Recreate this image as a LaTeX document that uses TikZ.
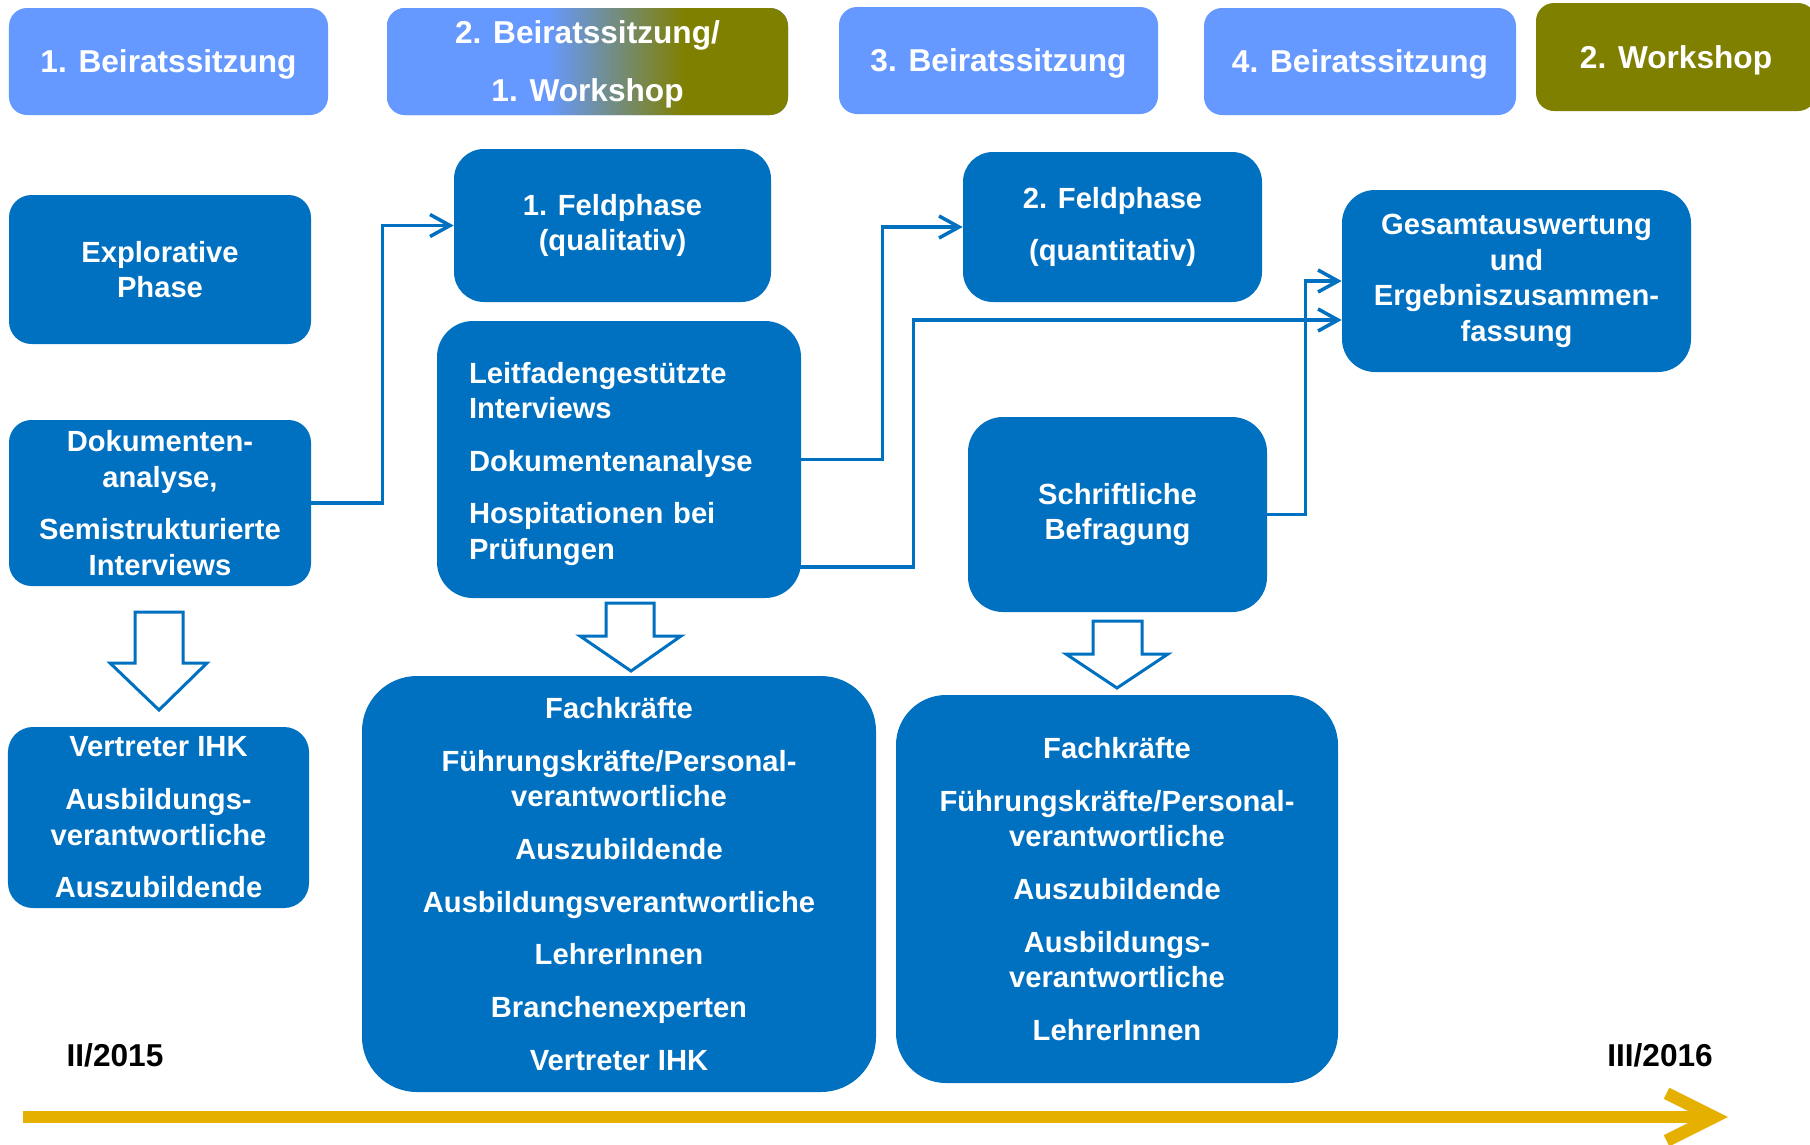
\documentclass[tikz,border=0pt]{standalone}
\usepackage{fontspec}
\setmainfont{Liberation Sans}
\usepackage{xcolor}
\usetikzlibrary{calc}
\usetikzlibrary{positioning,arrows.meta}
\definecolor{boxblue}{HTML}{0070C0}
\definecolor{lightblue}{HTML}{6699FF}
\definecolor{olivegreen}{HTML}{808000}
\definecolor{timegold}{HTML}{E6B000}
\pgfdeclarehorizontalshading{beiratws}{100bp}{color(0bp)=(lightblue); color(45bp)=(lightblue); color(62bp)=(olivegreen); color(100bp)=(olivegreen)}
\tikzset{
  phase/.style={fill=boxblue, text=white, inner sep=0pt, align=center,
    execute at begin node={\rule{0pt}{17pt}},
    font=\bfseries\fontsize{16.6}{20.25}\selectfont},
  sitzung/.style={fill=lightblue, text=white, inner sep=0pt, align=center,
    rounded corners=0.36cm, minimum height=2.14cm, text depth=0pt,
    font=\bfseries\fontsize{18}{21}\selectfont},
  conn/.style={draw=boxblue, line width=0.07cm,
    -{Straight Barb[length=0.4cm,width=0.44cm]}},
  hollow/.style={draw=boxblue, fill=white, line width=0.06cm},
  datum/.style={font=\bfseries\fontsize{18}{21}\selectfont}
}

\begin{document}
\begin{tikzpicture}
\clip (0,0) rectangle (36.2,-22.88);
\fill[white] (0,0) rectangle (36.2,-22.88);

% Sitzungen oben
\node[sitzung, minimum width=6.38cm] (beirat1) at (3.37,-1.23) {1. Beiratssitzung};
\node[sitzung, shade, shading=beiratws, minimum width=8.02cm] (beirat2) at (11.75,-1.23) {2. Beiratssitzung/\\[12pt]1. Workshop};
\node[sitzung, minimum width=6.38cm] (beirat3) at (19.97,-1.21) {3. Beiratssitzung};
\node[sitzung, minimum width=6.24cm] (beirat4) at (27.2,-1.23) {4. Beiratssitzung};
\node[sitzung, fill=olivegreen, minimum width=5.6cm, minimum height=2.16cm] (workshop2) at (33.52,-1.14) {2. Workshop};

% Phasen
\node[phase, rounded corners=0.45cm, minimum width=6.04cm, minimum height=2.98cm] (explorativ) at (3.2,-5.39) {Explorative\\Phase};
\node[phase, rounded corners=0.45cm, minimum width=6.04cm, minimum height=3.32cm] (dokumente) at (3.2,-10.06) {Dokumenten-\\analyse,\\[9.7pt]Semistrukturierte\\Interviews};
\node[phase, rounded corners=0.6cm, minimum width=6.34cm, minimum height=3.06cm] (feld1) at (12.25,-4.51) {1. Feldphase\\(qualitativ)};
\node[phase, rounded corners=0.72cm, minimum width=7.28cm, minimum height=5.54cm, text width=6.0cm, align=left] (leitfaden) at (12.38,-9.19) {Leitfadengestützte\\Interviews\\[9.7pt]Dokumentenanalyse\\[9.7pt]Hospitationen bei\\Prüfungen};
\node[phase, rounded corners=0.6cm, minimum width=5.98cm, minimum height=3.0cm] (feld2) at (22.25,-4.54) {2. Feldphase\\[9.7pt](quantitativ)};
\node[phase, rounded corners=0.7cm, minimum width=5.98cm, minimum height=3.9cm] (befragung) at (22.35,-10.29) {Schriftliche\\Befragung};
\node[phase, rounded corners=0.66cm, minimum width=6.98cm, minimum height=3.64cm] (gesamt) at (30.33,-5.62) {Gesamtauswertung\\und\\Ergebniszusammen-\\fassung};

% Zielgruppen
\node[phase, rounded corners=0.5cm, minimum width=6.02cm, minimum height=3.62cm] (gruppe0) at (3.17,-16.35) {Vertreter IHK\\[9.7pt]Ausbildungs-\\verantwortliche\\[9.7pt]Auszubildende};
\node[phase, rounded corners=1.1cm, minimum width=10.28cm, minimum height=8.32cm] (gruppe1) at (12.38,-17.68) {Fachkräfte\\[9.7pt]Führungskräfte/Personal-\\verantwortliche\\[9.7pt]Auszubildende\\[9.7pt]Ausbildungsverantwortliche\\[9.7pt]LehrerInnen\\[9.7pt]Branchenexperten\\[9.7pt]Vertreter IHK};
\node[phase, rounded corners=1.0cm, minimum width=8.84cm, minimum height=7.76cm] (gruppe2) at (22.34,-17.78) {Fachkräfte\\[9.7pt]Führungskräfte/Personal-\\verantwortliche\\[9.7pt]Auszubildende\\[9.7pt]Ausbildungs-\\verantwortliche\\[9.7pt]LehrerInnen};

% Verbindungen
\draw[conn] (dokumente.east) -- ++(1.42,0) |- (feld1.west);
\draw[conn] (leitfaden.east) -- ++(1.62,0) |- (feld2.west);
\draw[conn] ($(leitfaden.east)+(-0.1,-2.15)$) -- ++(2.34,0) |- ($(gesamt.west)+(0,-0.78)$);
\draw[conn] (befragung.east) -- ++(0.76,0) |- (gesamt.west);

% Blockpfeile
\draw[hollow] (2.7,-12.24) -- (3.66,-12.24) -- (3.66,-13.26) -- (4.14,-13.26) -- (3.18,-14.2) -- (2.2,-13.26) -- (2.7,-13.26) -- cycle;
\draw[hollow] (12.12,-12.06) -- (13.08,-12.06) -- (13.08,-12.72) -- (13.62,-12.72) -- (12.62,-13.42) -- (11.6,-12.72) -- (12.12,-12.72) -- cycle;
\draw[hollow] (21.86,-12.42) -- (22.84,-12.42) -- (22.84,-13.08) -- (23.36,-13.08) -- (22.34,-13.76) -- (21.32,-13.08) -- (21.86,-13.08) -- cycle;

% Zeitachse
\node[datum] (start) at (2.3,-21.1) {II/2015};
\node[datum] (ende) at (33.2,-21.1) {III/2016};
\coordinate (t0) at (0.46,-22.34);
\coordinate (t1) at (34.56,-22.34);
\draw[timegold, line width=0.25cm, -{Straight Barb[length=0.95cm,width=0.95cm]}] (t0) -- (t1);
\end{tikzpicture}
\end{document}
